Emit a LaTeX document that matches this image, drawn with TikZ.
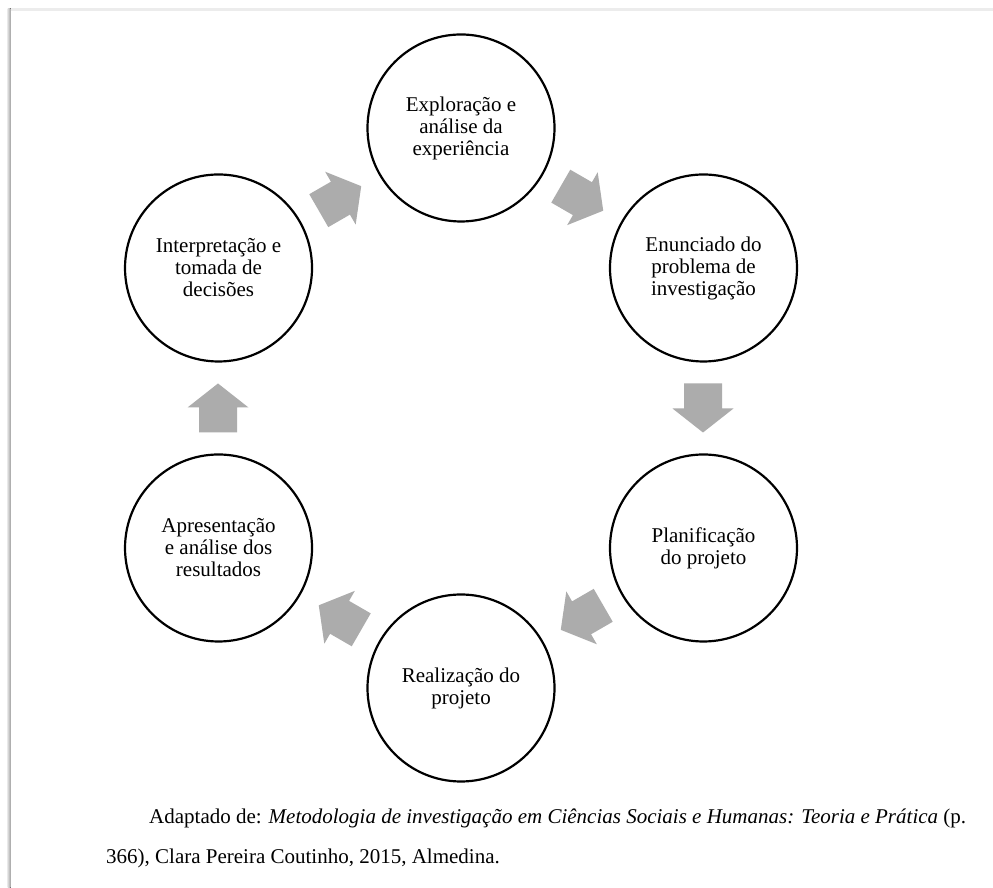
\documentclass[tikz,border=0pt]{standalone}
\usepackage{fontspec}
\setmainfont{Liberation Serif}
\definecolor{arrowgray}{RGB}{172,172,172}
\definecolor{framegray}{RGB}{236,236,236}
\begin{document}
\begin{tikzpicture}[x=1pt,y=1pt,
  stage/.style={circle, draw=black, line width=2.2pt, minimum size=187pt, inner sep=0pt, align=center, font=\fontsize{21}{22}\selectfont},
  caption/.style={anchor=base west, inner sep=0pt, font=\fontsize{21}{24}\selectfont},
  flowarrow/.pic={\fill[arrowgray] (-24.5,-19) -- (0.5,-19) -- (0.5,-30.5) -- (24.5,0) -- (0.5,30.5) -- (0.5,19) -- (-24.5,19) -- cycle;}]
\useasboundingbox (0,0) rectangle (993,888);
\fill[white] (0,0) rectangle (993,888);
% page frame
\fill[framegray] (10,876.5) rectangle (993,879.5);
\fill[left color=gray!25, right color=gray!70] (7.5,0) rectangle (10.5,879.5);
\coordinate (c) at (461,480);
% stages
\node[stage] (explo)  at ([shift={(90:280)}]c)  {Exploração e\\análise da\\experiência};
\node[stage] (enunc)  at ([shift={(30:280)}]c)  {Enunciado do\\problema de\\investigação};
\node[stage] (planif) at ([shift={(-30:280)}]c) {Planificação\\do projeto};
\node[stage] (realiz) at ([shift={(-90:280)}]c) {Realização do\\projeto};
\node[stage] (apres)  at ([shift={(210:280)}]c) {Apresentação\\e análise dos\\resultados};
\node[stage] (interp) at ([shift={(150:280)}]c) {Interpretação e\\tomada de\\decisões};
% block arrows
\pic[rotate=30]  at ([shift={(120:242)}]c)  {flowarrow};
\pic[rotate=-30] at ([shift={(60:242)}]c)   {flowarrow};
\pic[rotate=-90] at ([shift={(0:242)}]c)    {flowarrow};
\pic[rotate=210] at ([shift={(-60:242)}]c)  {flowarrow};
\pic[rotate=150] at ([shift={(-120:242)}]c) {flowarrow};
\pic[rotate=90]  at ([shift={(180:243)}]c)  {flowarrow};
% caption
\node[caption] (cap1) at (149,64) {Adaptado de: \textit{Metodologia de investigação em Ciências Sociais e Humanas: Teoria e Prática} (p.};
\node[caption] (cap2) at (106,24) {366), Clara Pereira Coutinho, 2015, Almedina.};
\end{tikzpicture}
\end{document}
